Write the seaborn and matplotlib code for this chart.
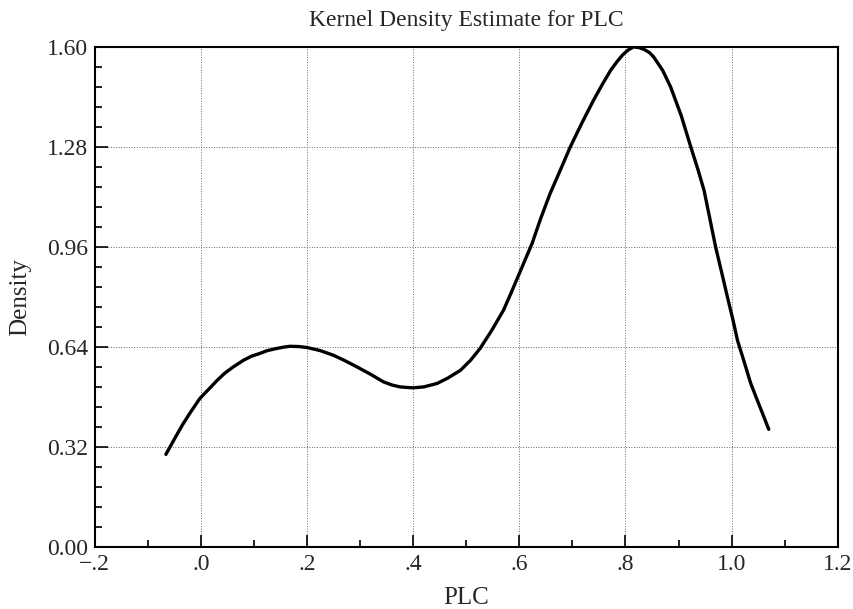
import matplotlib
matplotlib.use('Agg')
import matplotlib.pyplot as plt
import pandas as pd
import seaborn as sns
from matplotlib.ticker import MultipleLocator

# points
plc = [-0.066, -0.050, -0.035, -0.020, -0.002, 0.015, 0.030, 0.045, 0.061, 0.080,
       0.095, 0.111, 0.125, 0.140, 0.155, 0.168, 0.185, 0.200, 0.225, 0.250,
       0.270, 0.294, 0.320, 0.344, 0.360, 0.375, 0.390, 0.400, 0.420, 0.445,
       0.465, 0.489, 0.508, 0.526, 0.548, 0.570, 0.585, 0.600, 0.612, 0.624,
       0.640, 0.658, 0.677, 0.696, 0.718, 0.740, 0.757, 0.772, 0.785, 0.795,
       0.805, 0.815, 0.825, 0.835, 0.845, 0.853, 0.870, 0.885, 0.905, 0.923,
       0.937, 0.948, 0.959, 0.970, 0.981, 0.992, 1.002, 1.011, 1.024, 1.036,
       1.054, 1.070]
density = [0.296, 0.345, 0.390, 0.430, 0.475, 0.505, 0.532, 0.556, 0.576, 0.597,
           0.610, 0.619, 0.628, 0.634, 0.639, 0.642, 0.641, 0.638, 0.628, 0.613,
           0.597, 0.576, 0.552, 0.528, 0.518, 0.512, 0.510, 0.509, 0.512, 0.523,
           0.540, 0.565, 0.597, 0.635, 0.693, 0.757, 0.815, 0.875, 0.923, 0.971,
           1.050, 1.131, 1.205, 1.280, 1.357, 1.430, 1.482, 1.525, 1.555, 1.575,
           1.590, 1.600, 1.598, 1.592, 1.582, 1.568, 1.525, 1.472, 1.380, 1.280,
           1.205, 1.141, 1.050, 0.958, 0.880, 0.800, 0.730, 0.661, 0.590, 0.523,
           0.445, 0.376]

x_ticks = [-0.2, 0.0, 0.2, 0.4, 0.6, 0.8, 1.0, 1.2]
x_labels = ['\u2212.2', '.0', '.2', '.4', '.6', '.8', '1.0', '1.2']
y_ticks = [0.00, 0.32, 0.64, 0.96, 1.28, 1.60]
y_labels = ['0.00', '0.32', '0.64', '0.96', '1.28', '1.60']

df = pd.DataFrame({'PLC': plc, 'Density': density})

sns.set_style('white')
plt.rcParams['font.family'] = ['Liberation Serif', 'DejaVu Serif']

fig = plt.figure(figsize=(8.54, 6.09), dpi=100)
ax = fig.add_axes([0.111, 0.102, 0.870, 0.821])
sns.lineplot(data=df, x='PLC', y='Density', ax=ax, color='black', linewidth=2.4, sort=False)

ax.set_xlim(-0.2, 1.2)
ax.set_ylim(0, 1.6)
ax.set_xticks(x_ticks)
ax.set_xticklabels(x_labels)
ax.set_yticks(y_ticks)
ax.set_yticklabels(y_labels)
ax.xaxis.set_minor_locator(MultipleLocator(0.1))
ax.yaxis.set_minor_locator(MultipleLocator(0.064))
ax.tick_params(which='both', direction='in', bottom=True, left=True,
               labelsize=17, color='black', width=1.2)
ax.tick_params(which='major', length=9, pad=5)
ax.tick_params(which='minor', length=5)
ax.grid(True, which='major', linestyle=':', color='#666666', linewidth=0.7)
for s in ax.spines.values():
    s.set_color('black')
    s.set_linewidth(1.5)

ax.set_title('Kernel Density Estimate for PLC', fontsize=17, pad=15)
ax.set_xlabel('PLC', fontsize=18, labelpad=9)
ax.set_ylabel('Density', fontsize=18, labelpad=11)

fig.savefig('out.png', dpi=100)
